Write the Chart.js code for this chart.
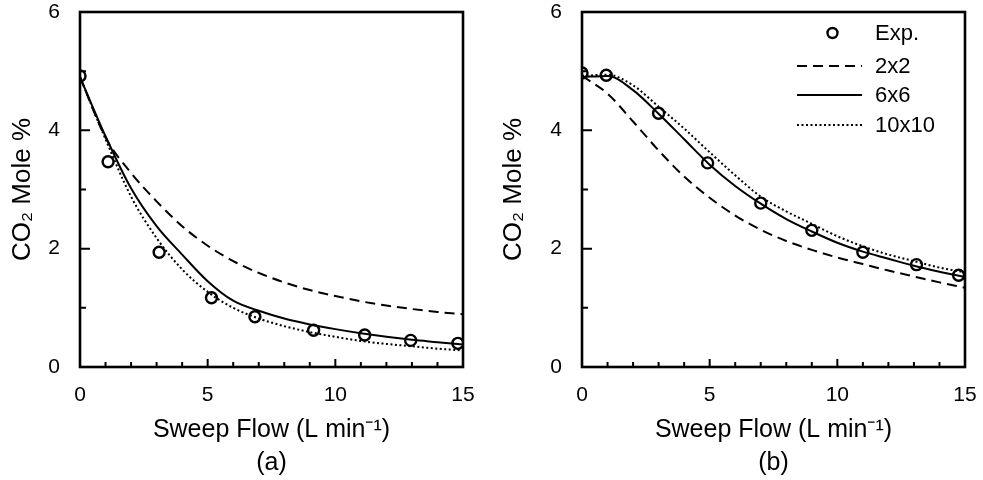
<!DOCTYPE html>
<html>
<head>
<meta charset="utf-8">
<script src="https://cdn.jsdelivr.net/npm/chart.js@4.4.1/dist/chart.umd.min.js"></script>
<style>
  body { margin: 0; background: #fff; }
  #wrap { position: relative; width: 983px; height: 480px; }
  canvas { position: absolute; top: 0; }
</style>
</head>
<body>
<div id="wrap">
  <canvas id="chartA" width="491" height="480" style="left:0"></canvas>
  <canvas id="chartB" width="492" height="480" style="left:491px"></canvas>
</div>
<script>
// datos
const xModel = [0, 1, 2, 3, 4, 5, 6, 7, 8, 9, 10, 11, 12, 13, 14, 15];
const xTicks = [0, 5, 10, 15];
const yTicks = [0, 2, 4, 6];

// panel (a)
const aExpX = [0, 1.1, 3.1, 5.15, 6.85, 9.15, 11.15, 12.95, 14.8];
const aExpY = [4.92, 3.47, 1.94, 1.17, 0.85, 0.62, 0.54, 0.45, 0.4];
const a2x2 = [4.9, 3.88, 3.28, 2.8, 2.38, 2.05, 1.79, 1.59, 1.43, 1.3, 1.2, 1.11, 1.04, 0.98, 0.93, 0.89];
const a6x6 = [4.9, 3.9, 3.02, 2.38, 1.9, 1.45, 1.12, 0.95, 0.82, 0.72, 0.64, 0.57, 0.51, 0.46, 0.42, 0.38];
const a10x10 = [4.9, 3.85, 2.88, 2.18, 1.65, 1.27, 1.0, 0.82, 0.69, 0.59, 0.51, 0.44, 0.39, 0.35, 0.31, 0.28];

// panel (b)
const bExpX = [0, 0.95, 3.0, 4.92, 7.0, 9.0, 11.0, 13.1, 14.75];
const bExpY = [4.97, 4.93, 4.29, 3.45, 2.77, 2.31, 1.94, 1.73, 1.55];
const b2x2 = [4.92, 4.62, 4.15, 3.66, 3.22, 2.86, 2.56, 2.32, 2.13, 1.98, 1.85, 1.74, 1.63, 1.53, 1.43, 1.34];
const b6x6 = [4.9, 4.92, 4.68, 4.28, 3.85, 3.42, 3.06, 2.76, 2.5, 2.29, 2.1, 1.95, 1.83, 1.71, 1.61, 1.52];
const b10x10 = [4.92, 4.94, 4.76, 4.4, 4.03, 3.63, 3.24, 2.88, 2.63, 2.42, 2.21, 2.04, 1.9, 1.79, 1.68, 1.6];

const seriesNames = ['Exp.', '2x2', '6x6', '10x10'];

const FONT = "'Liberation Sans', Arial, sans-serif";
Chart.defaults.font.family = FONT;
Chart.defaults.color = '#000';

function puntos(xs, ys) {
  return xs.map((x, i) => ({ x: x, y: ys[i] }));
}

// marco + ticks hacia dentro
const marcoPlugin = {
  id: 'marco',
  afterDatasetsDraw(chart) {
    const ctx = chart.ctx;
    const a = chart.chartArea;
    const sx = chart.scales.x, sy = chart.scales.y;
    ctx.save();
    ctx.strokeStyle = '#000';
    ctx.lineWidth = 2;
    ctx.beginPath();
    for (let v = sx.min; v <= sx.max; v++) {
      const px = sx.getPixelForValue(v);
      const len = v % 5 === 0 ? 8 : 5;
      ctx.moveTo(px, a.bottom);
      ctx.lineTo(px, a.bottom - len);
    }
    for (let v = sy.min; v <= sy.max; v++) {
      const py = sy.getPixelForValue(v);
      const len = v % 2 === 0 ? 10 : 6;
      ctx.moveTo(a.left, py);
      ctx.lineTo(a.left + len, py);
    }
    ctx.stroke();
    ctx.lineWidth = 2.6;
    ctx.strokeRect(a.left, a.top, a.right - a.left, a.bottom - a.top);
    ctx.restore();
  }
};

// leyenda dentro del panel (b)
const leyendaPlugin = {
  id: 'leyenda',
  afterDraw(chart, args, opts) {
    if (!opts.show) return;
    const ctx = chart.ctx;
    const a = chart.chartArea;
    const filas = [21, 54, 83, 113];
    const x0 = a.right - 168, x1 = a.right - 103, xt = a.right - 90;
    ctx.save();
    ctx.font = '22px ' + FONT;
    ctx.textBaseline = 'middle';
    ctx.textAlign = 'left';
    ctx.fillStyle = '#000';
    chart.data.datasets.forEach((ds, i) => {
      const y = a.top + filas[i];
      ctx.strokeStyle = '#000';
      if (i === 0) {
        ctx.lineWidth = 2.4;
        ctx.beginPath();
        ctx.arc((x0 + x1) / 2 + 3, y, 5, 0, Math.PI * 2);
        ctx.stroke();
      } else {
        ctx.lineWidth = ds.borderWidth;
        ctx.setLineDash(ds.borderDash || []);
        ctx.beginPath();
        ctx.moveTo(x0, y);
        ctx.lineTo(x1, y);
        ctx.stroke();
        ctx.setLineDash([]);
      }
      ctx.fillText(ds.label, xt, y + 1);
    });
    ctx.restore();
  }
};

function crearGrafico(id, expX, expY, s2, s6, s10, letra, conLeyenda, padRight, yWidth) {
  const ctx = document.getElementById(id).getContext('2d');
  return new Chart(ctx, {
    type: 'line',
    data: {
      datasets: [
        {
          label: seriesNames[0], type: 'scatter', data: puntos(expX, expY),
          showLine: false, pointRadius: 5.5, pointBorderWidth: 2.4,
          pointBorderColor: '#000', pointBackgroundColor: 'rgba(0,0,0,0)', order: 0
        },
        {
          label: seriesNames[1], data: puntos(xModel, s2), borderColor: '#000',
          borderWidth: 2, borderDash: [10, 6], pointRadius: 0,
          cubicInterpolationMode: 'monotone', order: 3
        },
        {
          label: seriesNames[2], data: puntos(xModel, s6), borderColor: '#000',
          borderWidth: 2, pointRadius: 0, cubicInterpolationMode: 'monotone', order: 2
        },
        {
          label: seriesNames[3], data: puntos(xModel, s10), borderColor: '#000',
          borderWidth: 2, borderDash: [2, 2.5], pointRadius: 0,
          cubicInterpolationMode: 'monotone', order: 1
        }
      ]
    },
    options: {
      responsive: false,
      animation: false,
      devicePixelRatio: 1,
      layout: { padding: { left: 0, right: padRight, top: 12, bottom: 0 } },
      plugins: {
        legend: { display: false },
        tooltip: { enabled: false },
        leyenda: { show: conLeyenda }
      },
      scales: {
        x: {
          type: 'linear', min: 0, max: 15,
          afterBuildTicks: s => { s.ticks = xTicks.map(v => ({ value: v })); },
          afterFit: s => { s.height = 113; s.paddingLeft = 0; s.paddingRight = 0; },
          ticks: { padding: 16, font: { size: 21 }, color: '#000', maxRotation: 0 },
          grid: { display: false, drawTicks: false },
          border: { display: false },
          title: {
            display: true, text: ['Sweep Flow (L min\u207B\u00B9)', letra],
            font: { size: 25, lineHeight: 1.32 }, color: '#000',
            padding: { top: 0, bottom: 0 }
          }
        },
        y: {
          type: 'linear', min: 0, max: 6,
          afterBuildTicks: s => { s.ticks = yTicks.map(v => ({ value: v })); },
          afterFit: s => { s.width = yWidth; s.paddingTop = 0; s.paddingBottom = 0; },
          ticks: { padding: 20, font: { size: 21 }, color: '#000' },
          grid: { display: false, drawTicks: false },
          border: { display: false },
          title: {
            display: true, text: 'CO\u2082 Mole %',
            font: { size: 26, lineHeight: 1.2 }, color: '#000',
            padding: { top: 7, bottom: 0 }
          }
        }
      }
    },
    plugins: [marcoPlugin, leyendaPlugin]
  });
}

document.addEventListener('DOMContentLoaded', () => {
  crearGrafico('chartA', aExpX, aExpY, a2x2, a6x6, a10x10, '(a)', false, 28, 80);
  crearGrafico('chartB', bExpX, bExpY, b2x2, b6x6, b10x10, '(b)', true, 18, 91);
});
</script>
</body>
</html>
